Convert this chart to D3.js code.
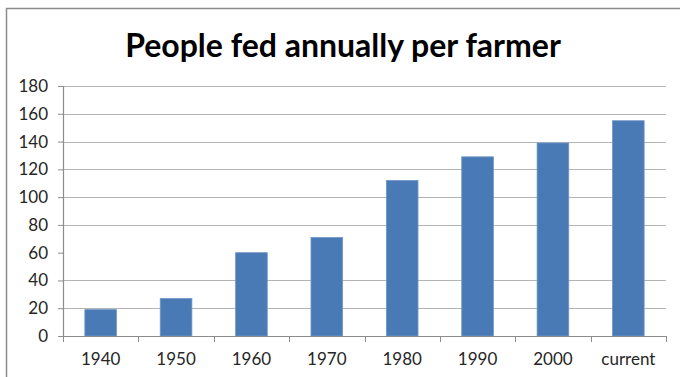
<!DOCTYPE html>
<html>
<head>
<meta charset="utf-8">
<script src="https://cdn.jsdelivr.net/npm/d3@7"></script>
<style>
  body { margin: 0; background: #fff; }
  svg { display: block; }
</style>
</head>
<body>
<script>
// values
const categories = ["1940", "1950", "1960", "1970", "1980", "1990", "2000", "current"];
const peopleFed = [19, 27, 60, 71, 112, 129, 139, 155];
const yTicks = [0, 20, 40, 60, 80, 100, 120, 140, 160, 180];
// the 60 gridline does not show in the reference
const gridTicks = [20, 40, 80, 100, 120, 140, 160, 180];

const data = categories.map(function(c, i){ return {cat: c, value: peopleFed[i]}; });

const W = 680, H = 377;
const margin = {top: 86, right: 14, bottom: 41, left: 63},
      width  = W - margin.left - margin.right,
      height = H - margin.top - margin.bottom;

const svg = d3.select("body")
      .append("svg")
      .attr("width", W)
      .attr("height", H);

// chart frame (only top and left edges show in the crop)
svg.append("path")
    .attr("d", "M6.5," + H + "V8.5H" + W)
    .attr("fill", "none")
    .attr("stroke", "#8c8c8c")
    .attr("stroke-width", 1.5);

svg.append("text")
    .attr("x", 343)
    .attr("y", 57)
    .attr("text-anchor", "middle")
    .attr("font-family", "Lato, 'Open Sans', sans-serif")
    .attr("font-weight", "bold")
    .attr("font-size", "32px")
    .attr("fill", "#000")
    .text("People fed annually per farmer");

const chart = svg.append("g")
      .attr("transform", "translate(" + margin.left + "," + margin.top + ")");

const yScale = d3.scaleLinear()
      .domain([0, 180])
      .range([height, 0]);

const xScale = d3.scaleBand()
      .domain(categories)
      .range([0, width])
      .paddingInner(0.58)
      .paddingOuter(0.29);

// gridlines
chart.selectAll(".grid")
    .data(gridTicks)
    .enter()
    .append("line")
    .attr("class", "grid")
    .attr("x1", 0)
    .attr("x2", width)
    .attr("y1", function(d){ return Math.round(yScale(d)) + 0.5; })
    .attr("y2", function(d){ return Math.round(yScale(d)) + 0.5; })
    .attr("stroke", "#b4b4b4")
    .attr("stroke-width", 1.2);

chart.selectAll(".bar")
    .data(data)
    .enter()
    .append("rect")
    .attr("class", "bar")
    .attr("x", function(d){ return xScale(d.cat); })
    .attr("y", function(d){ return yScale(d.value); })
    .attr("width", xScale.bandwidth())
    .attr("height", function(d){ return height - yScale(d.value); })
    .attr("fill", "#4a7ab5")
    .attr("stroke", "#6f97c9")
    .attr("stroke-width", 0.8);

// y axis
const yAxis = chart.append("g")
    .call(d3.axisLeft(yScale).tickValues(yTicks).tickSize(5).tickPadding(10).tickFormat(d3.format("d")));

// x axis with ticks on category boundaries
const xAxis = chart.append("g")
    .attr("transform", "translate(0," + height + ")")
    .call(d3.axisBottom(xScale).tickSize(0).tickPadding(17));

const step = width / categories.length;
xAxis.selectAll(".sep")
    .data(d3.range(categories.length + 1))
    .enter()
    .append("line")
    .attr("class", "sep")
    .attr("x1", function(i){ return Math.round(i * step) + 0.5; })
    .attr("x2", function(i){ return Math.round(i * step) + 0.5; })
    .attr("y1", 0)
    .attr("y2", 6)
    .attr("stroke", "#8c8c8c");

[yAxis, xAxis].forEach(function(ax){
    ax.select(".domain").attr("stroke", "#8c8c8c").attr("stroke-width", 1.2);
    ax.selectAll(".tick line").attr("stroke", "#8c8c8c");
    ax.selectAll("text")
        .attr("font-family", "Lato, 'Open Sans', sans-serif")
        .attr("font-size", "17px")
        .attr("fill", "#262626");
});
</script>
</body>
</html>
